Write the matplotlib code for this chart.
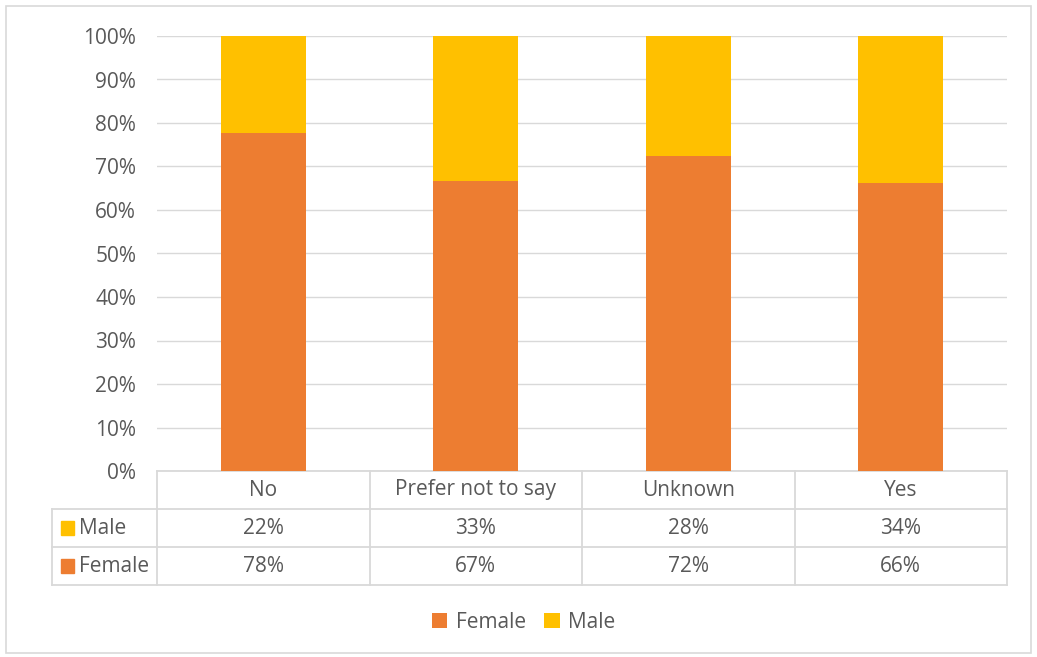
import matplotlib
matplotlib.use('Agg')
import matplotlib.pyplot as plt
from matplotlib.patches import Rectangle
from matplotlib.transforms import blended_transform_factory

categories = ['No', 'Prefer not to say', 'Unknown', 'Yes']
female = [77.8, 66.6, 72.4, 66.2]
male = [22.2, 33.4, 27.6, 33.8]

c_female = '#ed7d31'
c_male = '#ffc000'
txt = '#595959'
grid = '#d9d9d9'

plt.rcParams['font.family'] = ['Open Sans', 'DejaVu Sans']
fs = 15

fig = plt.figure(figsize=(10.37, 6.57), dpi=100)
fig.patches.append(Rectangle((0.006, 0.006), 0.988, 0.985, transform=fig.transFigure,
                             fill=False, edgecolor=grid, linewidth=1.2))

ax = fig.add_axes([157/1037, 1-471/657, 850/1037, 435/657])
x = range(len(categories))
ax.bar(x, female, width=0.4, color=c_female, zorder=3, label='Female')
ax.bar(x, male, width=0.4, bottom=female, color=c_male, zorder=3, label='Male')

ax.set_xlim(-0.5, len(categories) - 0.5)
ax.set_ylim(0, 100)
ax.set_yticks(range(0, 101, 10))
ax.set_yticklabels([f'{v}%' for v in range(0, 101, 10)])
ax.tick_params(axis='y', length=0, pad=15, labelsize=fs, labelcolor=txt)
ax.set_xticks([])
ax.grid(axis='y', color=grid, linewidth=1, zorder=0)
for s in ax.spines.values():
    s.set_visible(False)

# data table below the plot
tr = blended_transform_factory(ax.transData, ax.transAxes)
rh = 38 / 435
lab_left = -0.5 - 105 / 212.5
lkw = dict(transform=tr, color=grid, linewidth=1.3, clip_on=False)
n = len(categories)
# horizontal lines
ax.plot([-0.5, n - 0.5], [0, 0], **lkw)
for k in (1, 2, 3):
    ax.plot([lab_left, n - 0.5], [-k * rh, -k * rh], **lkw)
# vertical lines
for b in range(n + 1):
    ax.plot([b - 0.5, b - 0.5], [0, -3 * rh], **lkw)
ax.plot([lab_left, lab_left], [-rh, -3 * rh], **lkw)

for i, cat in enumerate(categories):
    ax.text(i, -0.5 * rh, cat, transform=tr, ha='center', va='center', fontsize=fs, color=txt)
    ax.text(i, -1.5 * rh, f'{male[i]:.0f}%', transform=tr, ha='center', va='center', fontsize=fs, color=txt)
    ax.text(i, -2.5 * rh, f'{female[i]:.0f}%', transform=tr, ha='center', va='center', fontsize=fs, color=txt)

for k, (name, col) in enumerate([('Male', c_male), ('Female', c_female)]):
    yc = -(1.5 + k) * rh
    ax.add_patch(Rectangle((lab_left + 0.04, yc - 0.016), 0.065, 0.032, transform=tr,
                           color=col, clip_on=False))
    ax.text(lab_left + 0.125, yc, name, transform=tr, ha='left', va='center', fontsize=fs, color=txt)

leg = fig.legend(loc='center', bbox_to_anchor=(0.505, 1 - 622/657), ncol=2, frameon=False,
                 fontsize=fs, handlelength=0.75, handleheight=0.75, handletextpad=0.4,
                 columnspacing=0.9)
for t in leg.get_texts():
    t.set_color(txt)

plt.savefig('out.png', dpi=100)
